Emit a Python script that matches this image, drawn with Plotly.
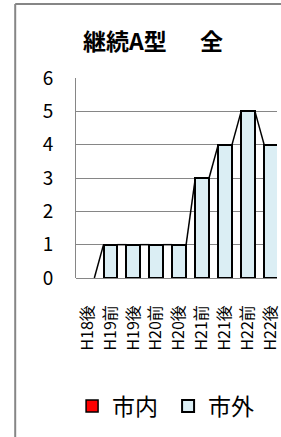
import plotly.graph_objects as go

categories = ["H18後", "H19前", "H19後", "H20前", "H20後", "H21前", "H21後", "H22前", "H22後"]
shinai = [0, 0, 0, 0, 0, 0, 0, 0, 0]
shigai = [0, 1, 1, 1, 1, 3, 4, 5, 4]
y_ticks = [0, 1, 2, 3, 4, 5, 6]

W, H = 281, 437
ML, MR, MT, MB = 76, 0, 78, 159
PW = W - ML - MR
PH = H - MT - MB
cat_px = 23.4
bar_w = 0.6

xs = list(range(len(categories)))
totals = [a + b for a, b in zip(shinai, shigai)]


def nz(vals):
    # zero-height segments are not drawn (as in the original)
    return [v if v else None for v in vals]


fig = go.Figure()
fig.add_trace(go.Bar(
    x=xs, y=nz(shinai), name="市内", width=bar_w,
    marker=dict(color="#FF0000", line=dict(color="#000000", width=1.5)),
))
fig.add_trace(go.Bar(
    x=xs, y=nz(shigai), name="市外", width=bar_w,
    marker=dict(color="#DBEEF4", line=dict(color="#000000", width=2)),
))

# series lines connecting tops of stacked bars
lx, ly = [], []
for i in range(len(xs) - 1):
    lx += [xs[i] + bar_w / 2, xs[i + 1] - bar_w / 2, None]
    ly += [totals[i], totals[i + 1], None]
fig.add_trace(go.Scatter(x=lx, y=ly, mode="lines", line=dict(color="#000000", width=1.5),
                         showlegend=False, hoverinfo="skip"))

x_end = -0.5 + PW / cat_px


def px_x(p):
    return (p - ML) / PW


def px_y(p):
    return (MT + PH - p) / PH


fig.update_layout(
    width=W, height=H,
    margin=dict(l=ML, r=MR, t=MT, b=MB),
    barmode="stack", bargap=0.4,
    plot_bgcolor="white", paper_bgcolor="white",
    font=dict(family="Noto Sans CJK JP, Noto Sans, sans-serif", color="#000000"),
    title=dict(text="<b>継続A型　&nbsp;&nbsp;全</b>", x=153 / W, xanchor="center", xref="container",
               y=1 - 42 / H, yanchor="middle", yref="container",
               font=dict(size=23, color="#000000")),
    xaxis=dict(range=[-0.5, x_end], tickmode="array", tickvals=xs, ticktext=categories,
               tickangle=-90, tickfont=dict(size=16), showgrid=False, zeroline=False,
               showline=False, ticks="", ticklabelstandoff=23, ticklabeloverflow="allow"),
    yaxis=dict(range=[0, 6], tickmode="array", tickvals=y_ticks, tickfont=dict(size=19),
               showgrid=True, gridcolor="#868686", gridwidth=1, zeroline=True,
               zerolinecolor="#868686", zerolinewidth=1,
               showline=True, linecolor="#868686", linewidth=1, ticks="",
               ticklabelstandoff=18),
    legend=dict(orientation="h", x=px_x(72), xanchor="left", y=px_y(406), yanchor="middle",
                font=dict(size=23), entrywidth=51, entrywidthmode="pixels",
                itemclick=False, traceorder="normal"),
    showlegend=True,
    shapes=[
        dict(type="line", xref="paper", yref="paper", x0=px_x(14), x1=px_x(14),
             y0=px_y(H + 5), y1=px_y(4), line=dict(color="#868686", width=2)),
        dict(type="line", xref="paper", yref="paper", x0=px_x(14), x1=px_x(W + 5),
             y0=px_y(4), y1=px_y(4), line=dict(color="#868686", width=2)),
    ],
)

fig.write_html("out.html", config={"displayModeBar": False},
               post_script="document.body.style.margin='0';document.body.style.overflow='hidden';")
